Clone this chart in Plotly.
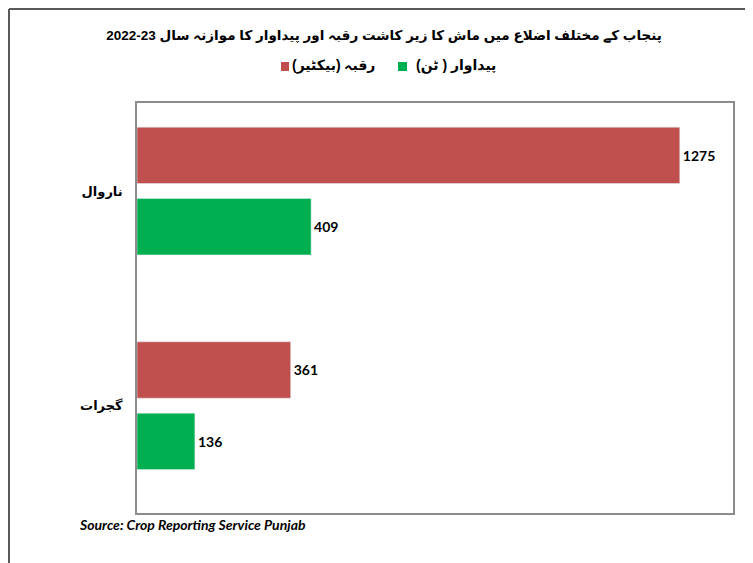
import plotly.graph_objects as go

districts = ['گجرات', 'ناروال']
area_hectare = [361, 1275]
production_ton = [136, 409]

area_name = 'رقبہ (بیکٹیر)\u200f'
prod_name = 'پیداوار ( ٹن)\u200f'
title_text = '2022-23 پنجاب کے مختلف اضلاع میں ماش کا زیر کاشت رقبہ اور پیداوار کا موازنہ سال'

RED = '#C0504D'
GREEN = '#00B050'
URDU_FONT = 'Arial, DejaVu Sans, sans-serif'
NUM_FONT = 'Lato, Arial, sans-serif'

# page body has an 8px margin, so figure coords = window coords - 8
OFF = 8
W, H = 753 - OFF, 563 - OFF
L, R, T, B = 137 - OFF, 733 - OFF, 103 - OFF, 513 - OFF


def px(x):
    return (x - OFF - L) / (R - L)


def py(y):
    return (B - (y - OFF)) / (B - T)


fig = go.Figure()
fig.add_trace(go.Bar(
    y=districts, x=production_ton, name=prod_name, orientation='h',
    marker_color=GREEN, text=production_ton, textposition='outside',
    textfont=dict(family=NUM_FONT, size=14, color='black', weight='bold'),
    cliponaxis=False
))
fig.add_trace(go.Bar(
    y=districts, x=area_hectare, name=area_name, orientation='h',
    marker_color=RED, text=area_hectare, textposition='outside',
    textfont=dict(family=NUM_FONT, size=14, color='black', weight='bold'),
    cliponaxis=False
))

annotations = [
    dict(text=prod_name, x=px(498), y=py(66), xanchor='right', yanchor='middle',
         font=dict(family=URDU_FONT, size=14, color='black', weight='bold')),
    dict(text=area_name, x=px(377), y=py(66), xanchor='right', yanchor='middle',
         font=dict(family=URDU_FONT, size=14, color='black', weight='bold')),
    dict(text='Source: Crop Reporting Service Punjab', x=px(77), y=py(524),
         xanchor='left', yanchor='middle',
         font=dict(family=NUM_FONT, size=14, color='black', weight='bold', style='italic')),
]
for a in annotations:
    a.update(xref='paper', yref='paper', showarrow=False)

# legend swatches and the outer frame
shapes = [
    dict(type='rect', x0=px(398), x1=px(407), y0=py(71), y1=py(62),
         fillcolor=GREEN, line_width=0),
    dict(type='rect', x0=px(281), x1=px(289), y0=py(71), y1=py(62),
         fillcolor=RED, line_width=0),
    dict(type='line', x0=px(OFF + 1), x1=px(OFF + 1), y0=py(OFF + 1), y1=py(580),
         line=dict(color='#595959', width=2)),
    dict(type='line', x0=px(OFF + 1), x1=px(780), y0=py(OFF + 1), y1=py(OFF + 1),
         line=dict(color='#595959', width=2)),
]
for s in shapes:
    s.update(xref='paper', yref='paper')

fig.update_layout(
    title=dict(text=title_text, x=(384 - OFF) / W, xref='container',
               y=1 - (35 - OFF) / H, yref='container',
               xanchor='center', yanchor='middle',
               font=dict(family=URDU_FONT, size=13.5, color='black', weight='bold')),
    barmode='group',
    bargap=0.335,
    bargroupgap=0.21,
    showlegend=False,
    width=W, height=H,
    margin=dict(l=L, r=W - R, t=T, b=H - B),
    paper_bgcolor='white',
    plot_bgcolor='white',
    xaxis=dict(range=[0, 1400], showticklabels=False, showgrid=False, zeroline=False,
               showline=True, mirror=True, linecolor='#8c8c8c', linewidth=1.5),
    yaxis=dict(range=[-0.5, 1.41], showgrid=False, zeroline=False,
               showline=True, mirror=True, linecolor='#8c8c8c', linewidth=1.5,
               ticks='outside', ticklen=10, tickcolor='rgba(0,0,0,0)',
               tickfont=dict(family=URDU_FONT, size=13, color='black', weight='bold')),
    annotations=annotations,
    shapes=shapes,
)

fig.write_html('out.html')
